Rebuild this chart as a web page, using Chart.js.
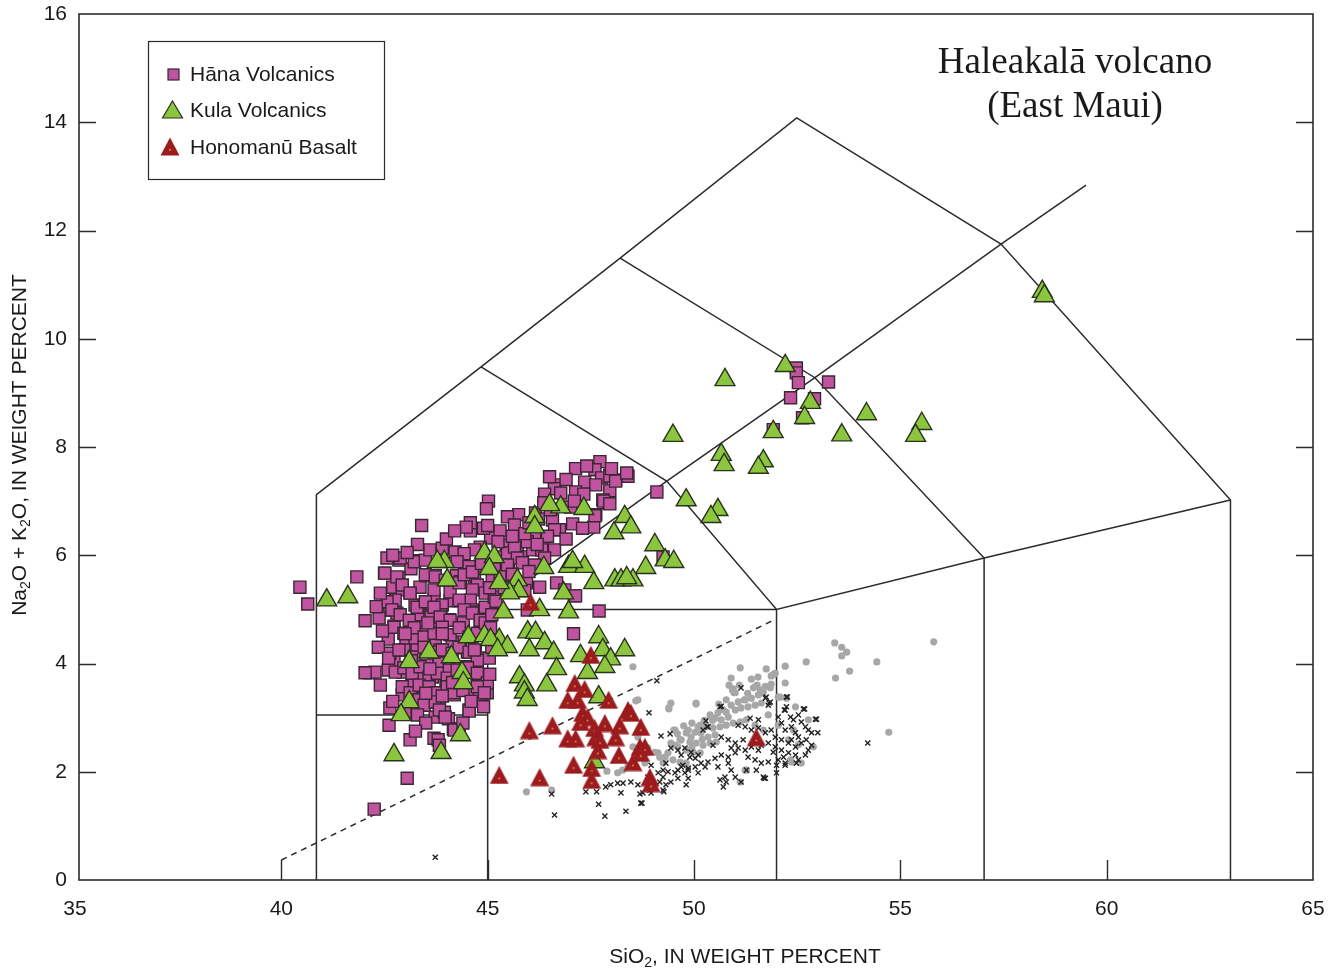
<!DOCTYPE html>
<html>
<head>
<meta charset="utf-8">
<title>Haleakalā volcano (East Maui) – TAS</title>
<script src="https://cdn.jsdelivr.net/npm/chart.js@4"></script>
<style>
  html, body { margin: 0; padding: 0; background: #fff; }
  #wrap { width: 1339px; height: 975px; }
</style>
</head>
<body>
<div id="wrap"><canvas id="tas" width="1339" height="975"></canvas></div>
<script>
// Осевые настройки
const xTicks = [35, 40, 45, 50, 55, 60, 65];
const yTicks = [0, 2, 4, 6, 8, 10, 12, 14, 16];

// Hāna Volcanics (SiO2, Na2O+K2O)
const hanaVolcanics = [
  [47.72,7.73],[47.13,7.6],[47.6,7.58],[47.96,7.48],[47.76,7.43],[48.1,7.39],[48.37,7.5],[48.4,7.46],
  [47.35,7.35],[47.62,7.3],[47.96,7.19],[49.1,7.17],[47.13,7.17],[47.33,7.13],[46.62,7.3],[46.62,7.23],
  [46.77,7.15],[46.38,7.13],[47.79,7.02],[47.93,6.97],[45.02,7.0],[44.97,6.86],[45.75,6.75],[45.48,6.71],
  [45.65,6.56],[46.16,6.78],[46.23,6.67],[46.57,6.65],[46.74,6.47],[46.62,6.47],[47.06,6.58],[47.57,6.52],
  [47.01,6.89],[47.62,6.75],[46.36,6.97],[46.52,6.84],[44.58,6.45],[44.58,6.6],[45.07,6.32],[45.48,6.19],
  [45.72,6.15],[45.84,5.97],[46.09,6.1],[46.33,6.28],[46.31,6.1],[46.62,6.1],[46.14,6.41],[45.96,6.25],
  [46.38,5.95],[45.45,6.0],[45.72,5.97],[45.5,5.82],[46.14,5.82],[44.82,6.15],[44.68,6.1],[44.58,5.77],
  [44.68,5.6],[44.75,5.45],[44.63,5.36],[46.26,5.41],[46.67,5.49],[47.1,5.25],[45.94,5.49],[47.7,4.97],
  [45.96,4.99],[44.58,5.17],[44.63,4.99],
  [40.45,5.41],[40.64,5.1],[41.83,5.6],[43.4,6.55],[44.48,6.52],[42.5,5.67],[42.85,5.91],[43.24,5.9],
  [43.14,5.75],[42.85,5.58],[42.7,5.41],[42.93,5.36],[43.36,5.41],[43.53,5.62],[43.73,5.62],[43.9,6.13],
  [44.21,6.06],[44.43,6.03],[44.26,5.88],[44.55,5.79],[44.24,5.62],[44.34,5.51],[43.12,5.3],[43.7,5.19],
  [44.09,5.16],[44.31,5.16],[43.24,5.08],[43.46,5.06],[43.9,5.08],[42.56,5.12],[42.76,5.17],[42.63,4.99],
  [42.8,4.93],[42.37,4.84],[43.36,4.9],[43.6,4.88],
  [42.03,4.79],[42.73,4.69],[43.17,4.68],[43.46,4.58],[43.63,4.86],[43.87,4.9],[44.07,4.81],[43.75,4.69],
  [44.41,4.75],[44.82,4.68],[44.65,4.95],[42.59,4.45],[43.02,4.38],[43.29,4.29],[43.24,4.47],[43.73,4.4],
  [43.85,4.25],[44.31,4.29],[44.34,4.4],[44.14,4.38],[42.73,4.03],[42.15,3.83],[42.27,3.84],[42.03,3.83],
  [42.59,3.88],[42.93,3.84],[43.0,3.92],[43.34,3.73],[43.53,3.97],[43.66,3.75],[43.83,4.01],[44.07,3.88],
  [44.51,4.21],[44.7,4.21],[44.51,3.94],[44.73,3.92],[44.8,4.1],[45.04,4.1],[43.46,3.57],[43.17,3.6],
  [42.93,3.42],[43.99,3.57],[44.19,3.42],[43.83,3.27],[43.6,3.29],[43.34,3.35],[43.41,3.23],[44.63,3.47],
  [44.8,3.38],[44.99,3.46],[44.75,3.64],[42.63,3.18],[44.55,3.14],[43.73,3.01],[43.95,3.1],[44.05,2.98],
  [42.61,2.86],[43.12,2.59],[43.7,2.62],[43.8,2.59],[43.83,2.49],[44.17,2.79],[44.31,2.79],[43.05,1.88],
  [42.25,1.31],
  [52.48,9.46],[52.48,9.37],[52.53,9.19],[53.26,9.2],[52.34,8.91],[52.92,8.89],[52.63,8.54],[51.92,8.32],
  [47.96,7.46],[48.1,7.37],[48.37,7.52],[47.81,7.0],[47.96,6.95],[47.6,6.73],[49.25,5.97],[46.87,5.36],
  [47.13,5.25],[47.08,4.55],
  [42.56,5.95],[42.88,5.95],[43.22,5.88],[43.49,5.91],[42.51,5.67],[42.8,5.6],[42.93,5.45],[43.12,5.3],
  [43.49,5.64],[43.73,5.6],[43.7,5.36],[43.97,5.54],[44.09,5.32],[44.31,5.49],[44.43,5.64],[44.63,5.69],
  [44.94,5.3],[45.11,5.6],[45.16,5.78],[45.24,5.97],[45.48,6.04],[45.65,6.15],[45.72,5.95],[45.48,5.82],
  [45.84,5.86],[42.56,5.14],[42.68,4.99],[42.88,4.9],[43.1,4.8],[43.29,5.04],[43.49,5.14],[43.7,5.04],
  [43.85,4.86],[44.09,4.8],[44.31,5.17],[44.43,4.99],[44.63,4.93],[44.82,4.8],[44.94,5.04],[45.16,5.23],
  [42.73,4.67],[42.97,4.56],[43.22,4.66],[43.46,4.49],[43.7,4.56],[43.9,4.67],[44.09,4.53],[44.31,4.66],
  [44.55,4.49],[44.75,4.56],[44.94,4.75],[45.07,4.66],[42.63,4.19],[42.97,4.25],[43.22,4.12],[43.46,4.3],
  [43.7,4.21],[43.9,4.25],[44.14,4.19],[44.31,4.3],[44.55,4.21],[44.75,4.06],[44.68,4.25],[42.76,3.84],
  [42.97,3.92],[43.17,3.82],[43.36,3.94],[43.58,3.75],[43.78,3.82],[44.02,3.73],[44.26,3.88],[44.51,3.92],
  [44.75,3.82],[44.99,3.64],[42.93,3.57],[43.12,3.46],[43.34,3.6],[43.58,3.57],[43.78,3.46],[44.02,3.57],
  [44.19,3.46],[44.75,3.57],[44.92,3.46],[43.34,3.33],[43.46,3.23],[43.73,3.29],[43.83,3.14],[43.97,3.01],
  [44.55,3.12],[44.19,2.77],
  [44.9,6.5],[45.3,6.45],[45.9,6.4],[46.0,6.6],[46.45,6.35],[46.9,6.3],[47.3,6.5],[47.1,7.0],
  [46.9,7.4],[46.5,7.45],[47.4,7.65],[48.0,7.6],[46.2,6.2],[45.6,6.35],[45.25,6.25],[45.0,6.55],
  [45.3,5.6],[45.6,5.65],[46.0,5.7],[45.9,5.35],[45.2,5.15],[45.4,5.4],[42.4,5.3],[42.3,5.05],
  [42.45,4.6],[42.35,4.3],[42.6,4.1],[42.4,3.6],[42.7,3.3],[43.0,3.1],[43.3,3.05],[43.5,2.9],
  [43.25,2.75],[44.4,2.9],[44.9,3.2],[45.05,3.8],[45.1,4.3],[45.1,4.9],[45.05,5.4],[44.85,5.85],
  [43.6,6.1],[43.3,6.2],[43.05,6.05],[42.7,6.0],[44.0,6.3],[44.2,6.45],[43.9,4.55],[43.55,4.75],
  [43.0,4.55],[42.85,4.25],[43.15,4.05],[43.6,3.9],[44.15,3.65],[44.4,3.5],[44.6,3.3],[43.9,3.4],
  [43.5,3.45]
];

// Kula Volcanics
const kulaVolcanics = [
  [58.44,10.87],[58.49,10.79],[50.75,9.24],[52.21,9.5],[52.82,8.82],[52.68,8.54],[51.92,8.28],[54.18,8.61],
  [53.58,8.22],[55.52,8.43],[55.37,8.21],[49.49,8.21],[50.66,7.86],[50.73,7.67],[51.68,7.74],[51.56,7.62],
  [49.81,7.02],[50.58,6.84],[50.41,6.71],[49.05,6.19],[49.3,5.91],[49.51,5.88],[48.83,5.77],[48.32,6.71],
  [48.47,6.52],[48.06,6.41],[47.33,6.86],[46.77,6.89],[46.5,6.93],[46.14,6.71],[46.14,6.52],[46.36,5.77],
  [46.96,5.79],[47.35,5.79],[47.57,5.49],[46.84,5.3],[48.08,5.54],[48.23,5.54],[48.52,5.54],[48.37,5.58],
  [46.26,4.99],[46.96,4.95],[45.38,4.95],[45.72,5.54],[45.75,5.34],[45.53,5.3],[43.95,5.88],[43.78,5.88],
  [44.02,5.54],[44.92,6.04],[45.16,5.97],[45.04,5.75],[45.28,5.49],[41.1,5.17],[41.61,5.23],[47.06,5.88],
  [44.53,4.49],[44.92,4.51],[45.28,4.44],[45.07,4.44],[45.48,4.31],[45.24,4.25],[45.97,4.58],[46.16,4.57],
  [46.38,4.38],[46.01,4.25],[46.6,4.2],[46.67,3.9],[47.69,4.49],[47.79,4.25],[47.98,4.08],[48.32,4.25],
  [47.25,4.14],[47.42,3.83],[47.84,3.94],[45.77,3.75],[45.89,3.6],[45.89,3.47],[45.96,3.33],[46.43,3.6],
  [47.69,3.38],[43.58,4.21],[44.12,4.12],[43.1,4.03],[44.38,3.83],[44.41,3.64],[43.1,3.29],[42.9,3.05],
  [44.34,2.68],[43.87,2.35],[42.73,2.31],[47.59,2.18]
];

// Honomanū Basalt
const honomanuBasalt = [
  [46.04,5.14],[47.5,4.16],[47.11,3.64],[47.35,3.53],[46.94,3.33],[47.18,3.33],[47.93,3.33],[47.3,3.09],
  [47.42,3.01],[47.25,2.92],[48.4,3.14],[48.47,3.09],[47.59,2.81],[47.84,2.9],[48.2,2.86],[48.71,2.83],
  [46.01,2.77],[46.57,2.86],[46.94,2.62],[47.13,2.62],[47.62,2.64],[47.72,2.59],[48.1,2.64],[47.67,2.4],
  [48.69,2.46],[48.81,2.46],[48.18,2.31],[48.52,2.18],[48.71,2.35],[47.08,2.13],[47.52,2.07],[47.52,1.85],
  [48.93,1.9],[48.96,1.79],[45.28,1.94],[46.26,1.9],[51.51,2.64]
];

// Серые точки (сравнительные данные, без подписи)
const grayPoints = [
  [48.52,3.94],[48.59,3.31],[49.39,3.16],[50.05,3.25],[49.51,2.77],[45.94,1.63],[46.55,1.66],[47.89,2.01],
  [48.15,1.98],[48.27,2.03],[51.12,3.92],[50.9,3.73],[51.39,3.71],[50.95,3.53],[50.97,3.46],[51.22,3.33],
  [51.48,3.57],[51.61,3.51],[51.73,3.58],[51.87,3.77],[51.95,3.81],[52.21,3.95],[52.21,3.64],[52.09,3.38],
  [52.72,4.03],[53.41,4.38],[53.58,4.3],[53.7,4.21],[53.58,4.14],[53.77,3.86],[53.43,3.73],[54.43,4.03],
  [55.81,4.4],[54.72,2.73],[52.41,2.77],[52.6,2.16],[52.34,2.22],[51.12,1.81],[51.24,2.03],[48.4,2.12],
  [51.92,3.79],[51.97,3.82],[51.53,3.6],[51.44,3.55],[50.93,3.51],[51.0,3.46],[51.87,3.62],[51.85,3.55],
  [52.04,3.38],[52.24,3.36],[50.05,3.27],[49.39,3.18],[50.78,3.33],[50.9,3.23],[51.07,3.29],[51.24,3.33],
  [51.39,3.36],[51.56,3.42],[51.68,3.47],[50.39,3.05],[50.58,3.09],[50.78,3.1],[51.0,3.14],[51.14,3.18],
  [51.31,3.2],[51.48,3.23],[51.63,3.27],[50.51,2.99],[50.66,2.96],[50.83,3.01],[50.15,2.86],[50.29,2.83],
  [50.46,2.81],[50.63,2.83],[50.78,2.86],[50.95,2.9],[51.12,2.92],[51.27,2.96],[49.86,2.77],[50.03,2.73],
  [50.17,2.72],[50.34,2.64],[50.51,2.68],[49.69,2.59],[49.9,2.55],[50.05,2.53],[50.22,2.49],[50.39,2.53],
  [50.54,2.55],[49.44,2.53],[49.61,2.46],[49.81,2.4],[49.98,2.36],[50.15,2.35],[49.54,2.77],[49.13,2.35],
  [49.3,2.27],[49.49,2.22],[49.66,2.18],[49.81,2.16],[48.88,2.44],[49.05,2.36],[48.81,2.16],[48.64,2.64],
  [52.36,2.18],[52.46,3.2],[52.77,2.96],[52.89,2.46],[51.27,2.03],[48.64,3.33],[49.44,3.27],[48.52,2.46],
  [48.71,2.36],[49.17,2.27],[49.25,2.16],[49.37,2.35],[49.54,2.49],[49.66,2.59],[49.81,2.72],[49.93,2.64],
  [50.1,2.83],[51.8,3.05],[52.04,2.86],[52.29,2.59],[52.53,2.5],[51.68,2.77],[51.48,2.86],
  [50.7,3.15],[50.45,2.95],[50.25,2.95],[49.95,2.9],[49.75,2.85],[50.6,3.25],[51.3,3.45],[51.1,3.6],
  [50.85,3.6],[51.55,3.75],[51.75,3.9],[50.2,2.6],[49.95,2.45],[49.6,2.7]
];

// Крестики (сравнительные данные, без подписи)
const crossPoints = [
  [49.1,3.68],[48.91,3.09],[49.2,2.66],[49.42,2.7],[49.44,2.44],[49.61,2.4],[49.78,2.44],[49.93,2.36],
  [49.69,2.31],[49.9,2.27],[49.32,2.16],[49.25,2.03],[49.13,1.98],[48.96,2.12],[49.54,1.98],[49.73,2.12],
  [49.61,2.03],[49.86,2.03],[50.03,2.09],[50.1,1.98],[50.27,2.09],[49.44,1.81],[49.32,1.76],[49.17,1.81],
  [49.05,1.72],[48.93,1.66],[48.76,1.61],[48.64,1.76],[48.47,1.81],[48.28,1.79],[48.15,1.79],[47.98,1.76],
  [47.86,1.72],[48.23,1.61],[48.69,1.59],[49.27,1.63],[47.64,1.63],[47.38,1.63],[46.55,1.59],[47.69,1.4],
  [48.74,1.42],[46.62,1.2],[47.84,1.18],[48.35,1.27],[49.81,1.76],[50.29,2.94],[50.22,2.77],[50.34,2.83],
  [50.63,3.2],[51.14,3.55],[51.75,3.38],[51.85,3.29],[51.8,3.23],[52.24,3.38],[52.21,3.14],[52.34,3.01],
  [52.24,3.2],[52.65,3.16],[52.94,2.97],[52.53,3.05],[52.6,2.92],[52.7,2.83],[52.77,2.77],[52.85,2.72],
  [52.04,3.01],[52.12,2.9],[52.21,2.77],[52.36,2.83],[52.46,2.72],[52.53,2.64],[52.6,2.53],[52.72,2.59],
  [51.24,2.83],[51.39,2.77],[51.56,2.81],[51.73,2.72],[51.87,2.77],[51.97,2.64],[52.12,2.59],[52.29,2.53],
  [52.46,2.46],[51.8,2.53],[51.97,2.46],[52.12,2.4],[52.29,2.35],[52.46,2.31],[52.85,2.49],[52.77,2.4],
  [52.7,2.31],[50.66,2.64],[50.83,2.59],[51.0,2.53],[51.07,2.44],[51.24,2.4],[51.39,2.46],[51.56,2.4],
  [51.0,2.35],[50.83,2.27],[50.66,2.31],[50.51,2.25],[50.34,2.18],[50.17,2.16],[49.86,2.07],[49.69,2.09],
  [49.37,2.0],[49.25,1.9],[51.31,2.27],[51.48,2.22],[51.63,2.16],[51.8,2.18],[52.04,2.22],[52.21,2.16],
  [50.83,2.16],[50.9,2.03],[51.0,1.9],[50.75,1.9],[50.63,1.85],[50.71,1.72],[50.78,1.81],[51.51,2.03],
  [51.68,1.9],[51.27,2.03],[52.0,2.12],[52.21,2.12],[52.48,2.16],[52.0,1.98],[51.73,1.88],[49.78,1.98],
  [49.86,1.88],[49.61,1.88],[49.25,1.66],[48.96,1.81],[48.88,1.9],[48.71,1.42],[48.96,1.61],[51.14,1.81],
  [50.58,2.09],[50.03,2.25],[51.73,3.36],[51.82,3.27],[52.19,3.14],[52.26,3.38],[52.68,3.16],[52.97,2.97],
  [52.53,2.22],[52.36,2.59],[52.17,2.27],[51.7,1.88],[54.21,2.53],[50.66,3.21],[50.32,2.83],[43.73,0.42],
  [51.48,2.59],[51.63,2.49],[51.19,2.59],[51.92,2.36],[52.41,2.96],[51.56,2.96],[51.36,2.99],[51.07,2.86],
  [50.9,2.44],[50.46,2.49],[50.1,2.31],[53.0,2.72]
];

// Границы полей TAS-диаграммы
const fieldLines = [
  [[40.85,0],[40.85,7.12],[44.84,9.48],[48.21,11.49],[52.49,14.08],[57.44,11.75],[63,7.02],[63,0]],
  [[40.85,3.05],[45,3.05]],
  [[45,0],[45,5],[52,5],[52,0]],
  [[44.84,9.48],[49.34,7.37],[52,5],[57.03,5.95],[63,7.02]],
  [[48.21,11.49],[52.93,9.28],[57.03,5.95],[57.03,0]],
  [[45,5],[49.34,7.37],[52.93,9.28],[57.44,11.75],[59.5,12.84]]
];
const dividerLine = [[40,0.37],[51.9,4.79]];

const toXY = arr => arr.map(([x, y]) => ({ x, y }));

const FONT = "'Liberation Sans', Arial, sans-serif";
const INK = '#2b2b2b';
const HANA = '#c1549f';
const KULA = '#8cc63f';
const HONO = '#9b1b1f';
const FRAME_LEFT = 79;

// Маркер для Honomanū: красный треугольник с оранжевой точкой
function makeHonoMarker() {
  const c = document.createElement('canvas');
  c.width = 20; c.height = 19;
  const g = c.getContext('2d');
  g.fillStyle = HONO;
  g.beginPath();
  g.moveTo(10, 0.5); g.lineTo(19.5, 18.5); g.lineTo(0.5, 18.5);
  g.closePath(); g.fill();
  g.fillStyle = '#f2a23a';
  g.fillRect(9.2, 12, 1.6, 1.6);
  return c;
}
const honoMarker = makeHonoMarker();

const datasets = [];
fieldLines.forEach(line => {
  datasets.push({
    data: toXY(line), showLine: true, pointRadius: 0, borderColor: INK,
    borderWidth: 1.5, fill: false, order: 10, tension: 0
  });
});
datasets.push({
  data: toXY(dividerLine), showLine: true, pointRadius: 0, borderColor: INK,
  borderWidth: 1.5, borderDash: [6, 5], fill: false, order: 10
});
datasets.push({
  label: 'gray', data: toXY(grayPoints), pointStyle: 'circle', pointRadius: 3.6,
  backgroundColor: '#a7a7a7', borderWidth: 0, order: 6
});
datasets.push({
  label: 'cross', data: toXY(crossPoints), pointStyle: 'crossRot', pointRadius: 3.6,
  borderColor: '#222', borderWidth: 1.4, order: 5
});
datasets.push({
  label: 'Hāna Volcanics', data: toXY(hanaVolcanics), pointStyle: 'rect', pointRadius: 8.5,
  backgroundColor: HANA, borderColor: '#3a2734', borderWidth: 1.4, order: 3
});
datasets.push({
  label: 'Kula Volcanics', data: toXY(kulaVolcanics), pointStyle: 'triangle', pointRadius: 11.5,
  backgroundColor: KULA, borderColor: '#2a331c', borderWidth: 1.4, order: 2
});
datasets.push({
  label: 'Honomanū Basalt', data: toXY(honomanuBasalt), pointStyle: honoMarker, pointRadius: 9,
  order: 1
});

// Рамка, засечки, легенда и подписи
const decorations = {
  id: 'decorations',
  beforeDatasetsDraw(chart) {
    const { ctx, chartArea: a, scales: { x, y } } = chart;
    ctx.save();
    ctx.strokeStyle = INK;
    ctx.lineWidth = 1.6;
    ctx.strokeRect(FRAME_LEFT, a.top, a.right - FRAME_LEFT, a.bottom - a.top);
    ctx.lineWidth = 1.4;
    ctx.beginPath();
    yTicks.slice(1, -1).forEach(v => {
      const py = Math.round(y.getPixelForValue(v)) + 0.5;
      ctx.moveTo(FRAME_LEFT, py); ctx.lineTo(FRAME_LEFT + 17, py);
      ctx.moveTo(a.right, py); ctx.lineTo(a.right - 17, py);
    });
    xTicks.slice(1, -1).forEach(v => {
      const px = Math.round(x.getPixelForValue(v)) + 0.5;
      ctx.moveTo(px, a.bottom); ctx.lineTo(px, a.bottom - 20);
    });
    ctx.stroke();
    ctx.restore();
  },
  afterDraw(chart) {
    const { ctx } = chart;
    ctx.save();
    // легенда
    ctx.fillStyle = '#fff';
    ctx.fillRect(148, 41, 236, 138);
    ctx.strokeStyle = INK;
    ctx.lineWidth = 1.2;
    ctx.strokeRect(148.5, 41.5, 236, 138);
    ctx.fillStyle = HANA;
    ctx.fillRect(168, 69, 11, 11);
    ctx.strokeStyle = '#3a2734';
    ctx.strokeRect(168, 69, 11, 11);
    ctx.beginPath();
    ctx.moveTo(172.5, 101); ctx.lineTo(182.5, 118); ctx.lineTo(162.5, 118); ctx.closePath();
    ctx.fillStyle = KULA; ctx.fill();
    ctx.strokeStyle = '#2a331c'; ctx.stroke();
    ctx.drawImage(honoMarker, 170 - 10, 147 - 10);
    ctx.fillStyle = '#1a1a1a';
    ctx.font = '21px ' + FONT;
    ctx.textBaseline = 'middle';
    ctx.textAlign = 'left';
    ctx.fillText('Hāna Volcanics', 190, 75);
    ctx.fillText('Kula Volcanics', 190, 111);
    ctx.fillText('Honomanū Basalt', 190, 148);

    // название
    ctx.font = "37px 'Liberation Serif', 'Times New Roman', serif";
    ctx.textAlign = 'center';
    ctx.fillText('Haleakalā volcano', 1075, 63);
    ctx.fillText('(East Maui)', 1075, 107);

    // подписи осей с индексами
    const drawParts = (parts, cx, cy) => {
      const big = '21px ' + FONT, small = '14px ' + FONT;
      let total = 0;
      parts.forEach(([t, sub]) => { ctx.font = sub ? small : big; total += ctx.measureText(t).width; });
      let cur = cx - total / 2;
      ctx.textAlign = 'left';
      parts.forEach(([t, sub]) => {
        ctx.font = sub ? small : big;
        ctx.fillText(t, cur, cy + (sub ? 6 : 0));
        cur += ctx.measureText(t).width;
      });
    };
    ctx.fillStyle = '#1a1a1a';
    drawParts([['SiO', 0], ['2', 1], [', IN WEIGHT PERCENT', 0]], 745, 957);
    ctx.translate(20, 445);
    ctx.rotate(-Math.PI / 2);
    drawParts([['Na', 0], ['2', 1], ['O + K', 0], ['2', 1], ['O, IN WEIGHT PERCENT', 0]], 0, 0);
    ctx.restore();
  }
};

const noScalePadding = s => { s.paddingTop = 0; s.paddingRight = 0; s.paddingLeft = 0; s.paddingBottom = 0; };

new Chart(document.getElementById('tas').getContext('2d'), {
  type: 'scatter',
  data: { datasets },
  options: {
    responsive: false,
    animation: false,
    events: [],
    layout: { padding: { top: 14, right: 26, left: 0, bottom: 0 } },
    plugins: { legend: { display: false }, tooltip: { enabled: false } },
    scales: {
      x: {
        type: 'linear', min: 35, max: 65,
        grid: { display: false, drawTicks: false },
        border: { display: false },
        afterBuildTicks: s => { s.ticks = xTicks.map(v => ({ value: v })); },
        afterFit: s => { s.height = 95; noScalePadding(s); },
        ticks: { padding: 17, color: '#1a1a1a', font: { family: FONT, size: 21 }, maxRotation: 0 }
      },
      y: {
        type: 'linear', min: 0, max: 16,
        grid: { display: false, drawTicks: false },
        border: { display: false },
        afterBuildTicks: s => { s.ticks = yTicks.map(v => ({ value: v })); },
        afterFit: s => { s.width = 75; noScalePadding(s); },
        ticks: { padding: 8, color: '#1a1a1a', font: { family: FONT, size: 21 } }
      }
    }
  },
  plugins: [decorations]
});
</script>
</body>
</html>
